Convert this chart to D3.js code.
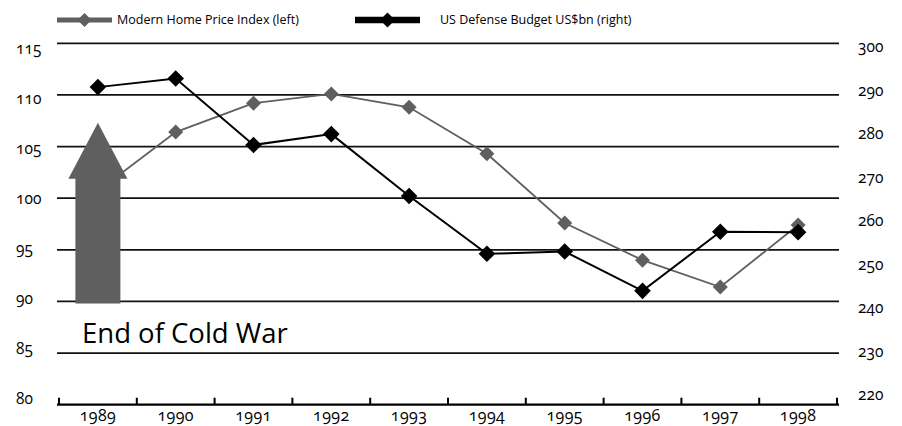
<!DOCTYPE html>
<html>
<head>
<meta charset="utf-8">
<script src="https://cdn.jsdelivr.net/npm/d3@7/dist/d3.min.js"></script>
<style>
  html, body { margin: 0; padding: 0; background: #fff; }
  svg { display: block; font-family: "Open Sans", "Noto Sans", sans-serif; }
  .num { font-variant-numeric: oldstyle-nums; font-feature-settings: "onum" 1; }
</style>
</head>
<body>
<svg id="chart" width="902" height="426"></svg>
<script>
// Years on the category axis
const years = ["1989", "1990", "1991", "1992", "1993", "1994", "1995", "1996", "1997", "1998"];
// Modern Home Price Index (left axis)
const homeIndex = [100.7, 106.4, 109.2, 110.1, 108.8, 104.3, 97.6, 94.0, 91.4, 97.4];
// US Defense Budget, US$bn (right axis)
const defense = [290.3, 292.2, 277.5, 279.9, 266.2, 253.4, 253.9, 245.2, 258.3, 258.2];
// Axis ticks
const leftTicks = [80, 85, 90, 95, 100, 105, 110, 115];
const rightTicks = [220, 230, 240, 250, 260, 270, 280, 290, 300];
// Series names for the legend
const seriesNames = ["Modern Home Price Index (left)", "US Defense Budget US$bn (right)"];
// Annotation: arrow marking 1989 on the left axis, spanning these index values
const arrowSpan = [89.8, 107.3];
const annotation = "End of Cold War";

const GRAY = "#5f5f5f";
const BLACK = "#000";

const svg = d3.select("#chart");

const plot = { left: 57, right: 839, top: 43.3, bottom: 404.7 };

const x = d3.scaleBand().domain(years).range([59, 837]);
const xc = d => x(d) + x.bandwidth() / 2;
const yL = d3.scaleLinear().domain([80, 115]).range([plot.bottom, plot.top]);
const yR = d3.scaleLinear().domain([220, 300]).range([plot.bottom, plot.top]);
// tick labels sit a little inward of their gridlines (baseline positions)
const yLLabel = d3.scaleLinear().domain([80, 115]).range([404, 54]);
const yRLabel = d3.scaleLinear().domain([220, 300]).range([400, 52]);

// Gridlines
svg.append("g")
  .selectAll("line")
  .data(leftTicks.filter(v => v !== 80))
  .join("line")
  .attr("x1", plot.left).attr("x2", plot.right)
  .attr("y1", d => yL(d)).attr("y2", d => yL(d))
  .attr("stroke", "#111").attr("stroke-width", 1.7);

// Category axis line and ticks between the categories
const axisG = svg.append("g");
axisG.append("line")
  .attr("x1", plot.left).attr("x2", plot.right)
  .attr("y1", plot.bottom).attr("y2", plot.bottom)
  .attr("stroke", "#000").attr("stroke-width", 2.2);
const boundaries = years.map(d => x(d)).concat([x(years[years.length - 1]) + x.bandwidth()]);
axisG.selectAll("line.tick")
  .data(boundaries)
  .join("line")
  .attr("class", "tick")
  .attr("x1", d => d).attr("x2", d => d)
  .attr("y1", plot.bottom - 7).attr("y2", plot.bottom)
  .attr("stroke", "#000").attr("stroke-width", 2);

axisG.selectAll("text.xl")
  .data(years)
  .join("text")
  .attr("class", "xl num")
  .attr("x", d => xc(d))
  .attr("y", 421)
  .attr("text-anchor", "middle")
  .attr("font-size", 16)
  .attr("letter-spacing", 0.4)
  .attr("fill", "#000")
  .text(d => d);

// Left axis labels
svg.append("g").selectAll("text")
  .data(leftTicks)
  .join("text")
  .attr("class", "num")
  .attr("x", 16)
  .attr("y", d => yLLabel(d))
  .attr("font-size", 15.5)
  .attr("fill", "#000")
  .text(d => d);

// Right axis labels
svg.append("g").selectAll("text")
  .data(rightTicks)
  .join("text")
  .attr("class", "num")
  .attr("x", 858)
  .attr("y", d => yRLabel(d))
  .attr("font-size", 15.5)
  .attr("fill", "#000")
  .text(d => d);

const diamond = (half) => `M0,${-half}L${half},0L0,${half}L${-half},0Z`;

// Home price series
const homeLine = d3.line().x((d, i) => xc(years[i])).y(d => yL(d));
svg.append("path")
  .datum(homeIndex)
  .attr("d", homeLine)
  .attr("fill", "none")
  .attr("stroke", GRAY)
  .attr("stroke-width", 1.8);
svg.append("g").selectAll("path")
  .data(homeIndex)
  .join("path")
  .attr("transform", (d, i) => `translate(${xc(years[i])},${yL(d)})`)
  .attr("d", diamond(7.5))
  .attr("fill", GRAY);

// Annotation arrow over 1989
const ax = xc(years[0]);
const yTip = yL(arrowSpan[1]);
const yBase = yL(arrowSpan[0]);
const headH = 56, headHalf = 29.5, bodyHalf = 22.5;
svg.append("path")
  .attr("d", `M${ax},${yTip}L${ax + headHalf},${yTip + headH}L${ax + bodyHalf},${yTip + headH}` +
             `L${ax + bodyHalf},${yBase}L${ax - bodyHalf},${yBase}L${ax - bodyHalf},${yTip + headH}` +
             `L${ax - headHalf},${yTip + headH}Z`)
  .attr("fill", GRAY);

// Defense budget series
const defLine = d3.line().x((d, i) => xc(years[i])).y(d => yR(d));
svg.append("path")
  .datum(defense)
  .attr("d", defLine)
  .attr("fill", "none")
  .attr("stroke", BLACK)
  .attr("stroke-width", 2);
svg.append("g").selectAll("path")
  .data(defense)
  .join("path")
  .attr("transform", (d, i) => `translate(${xc(years[i])},${yR(d)})`)
  .attr("d", diamond(8.3))
  .attr("fill", BLACK);

// Annotation text
svg.append("text")
  .attr("x", 82)
  .attr("y", 342.5)
  .attr("font-size", 27.5)
  .attr("fill", "#000")
  .text(annotation);

// Legend
const legend = svg.append("g");
const legendItems = [
  { name: seriesNames[0], color: GRAY, x0: 57, x1: 112, w: 5, half: 7, tx: 117 },
  { name: seriesNames[1], color: BLACK, x0: 355, x1: 420, w: 6.5, half: 7.5, tx: 440 }
];
legendItems.forEach(it => {
  legend.append("line")
    .attr("x1", it.x0).attr("x2", it.x1)
    .attr("y1", 20).attr("y2", 20)
    .attr("stroke", it.color).attr("stroke-width", it.w);
  legend.append("path")
    .attr("transform", `translate(${(it.x0 + it.x1) / 2},20)`)
    .attr("d", diamond(it.half))
    .attr("fill", it.color);
  legend.append("text")
    .attr("x", it.tx).attr("y", 24)
    .attr("font-size", 12.5)
    .attr("fill", "#000")
    .text(it.name);
});
</script>
</body>
</html>
